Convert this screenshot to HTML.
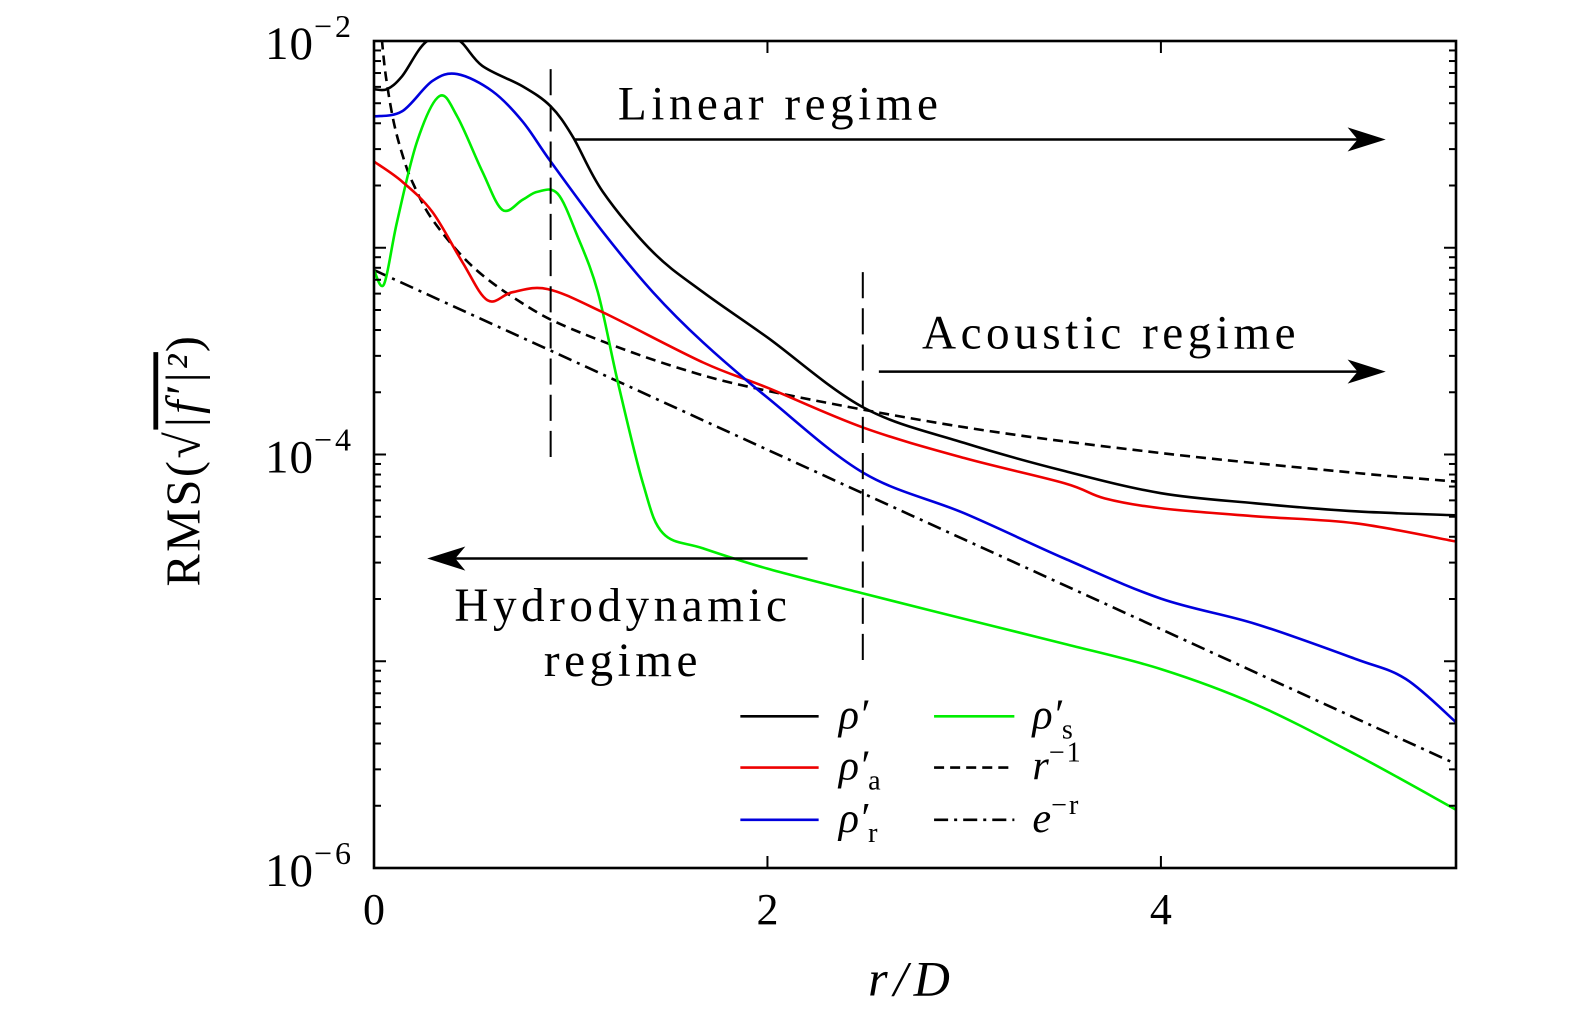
<!DOCTYPE html>
<html><head><meta charset="utf-8"><style>
html,body{margin:0;padding:0;background:#fff;width:1575px;height:1014px;overflow:hidden;position:relative;}
svg{display:block;}
svg text{font-family:"Liberation Serif",serif;fill:#000;}
</style></head><body>
<svg id="chart" width="1575" height="1014" style="position:absolute;left:0;top:0" xmlns="http://www.w3.org/2000/svg">
<defs><clipPath id="clip"><rect x="374" y="41" width="1082" height="827"/></clipPath></defs>
<g id="curves" clip-path="url(#clip)"></g>
<g id="axes"></g>
</svg>
<script>
const blackR=[0,0.066,0.143,0.27,0.42,0.55,0.755,0.898,1.01,1.163,1.418,1.673,2.0,2.49,3.0,3.51,4.0,4.48,4.99,5.5];
const blackLog=[-2.233,-2.233,-2.170,-2.0,-1.99,-2.12,-2.219,-2.316,-2.462,-2.729,-3.021,-3.215,-3.434,-3.774,-3.944,-4.080,-4.187,-4.236,-4.275,-4.294];
const blueR=[0,0.143,0.296,0.423,0.602,0.755,0.898,1.163,1.418,1.673,2.0,2.49,3.0,3.51,4.0,4.48,4.99,5.245,5.5];
const blueLog=[-2.365,-2.340,-2.194,-2.160,-2.243,-2.389,-2.583,-2.923,-3.215,-3.458,-3.725,-4.090,-4.284,-4.503,-4.697,-4.819,-4.989,-5.086,-5.295];
const redR=[0,0.143,0.296,0.449,0.577,0.704,0.883,1.163,1.673,2.0,2.49,3.0,3.51,3.714,4.0,4.48,4.99,5.5];
const redLog=[-2.583,-2.680,-2.826,-3.069,-3.254,-3.215,-3.200,-3.312,-3.555,-3.677,-3.871,-4.017,-4.139,-4.212,-4.260,-4.299,-4.333,-4.421];
const greenR=[0,0.051,0.117,0.219,0.332,0.423,0.551,0.653,0.755,0.832,0.934,1.036,1.138,1.240,1.367,1.469,1.673,2.0,2.49,3.0,3.51,4.0,4.48,4.99,5.5];
const greenLog=[-3.108,-3.176,-2.875,-2.486,-2.267,-2.365,-2.632,-2.817,-2.768,-2.729,-2.739,-2.948,-3.215,-3.652,-4.139,-4.381,-4.454,-4.552,-4.673,-4.795,-4.916,-5.038,-5.208,-5.451,-5.718];
const invR=[0.04,0.06,0.1,0.15,0.2,0.3,0.5,0.75,1,1.5,2,3,4,5,5.5];
const invLog=[-1.993,-2.169,-2.391,-2.567,-2.692,-2.868,-3.090,-3.266,-3.391,-3.567,-3.692,-3.868,-3.993,-4.090,-4.131];
const expR=[0,1,2,3,4,5,5.5];
const expLog=[-3.108,-3.542,-3.977,-4.411,-4.845,-5.280,-5.497];
const xTicks=[0,2,4];
const yTickExp=[-2,-4,-6];

const X0=374,X1=1456,Y0=41,Y1=868;
const xs=r=>X0+(r/5.5)*(X1-X0);
const ys=l=>Y0+(-2-l)/4*(Y1-Y0);
const NS="http://www.w3.org/2000/svg";
const curves=document.getElementById('curves'),axes=document.getElementById('axes');
function mk(tag,attrs,parent){const e=document.createElementNS(NS,tag);for(const k in attrs)e.setAttribute(k,attrs[k]);parent.appendChild(e);return e;}
function pathD(R,L){
  const p=R.map((r,i)=>[xs(r),ys(L[i])]);
  let d='M'+p[0][0]+','+p[0][1];
  for(let i=0;i<p.length-1;i++){
    const a=p[Math.max(0,i-1)],b=p[i],c=p[i+1],e=p[Math.min(p.length-1,i+2)];
    const c1=[b[0]+(c[0]-a[0])/6,b[1]+(c[1]-a[1])/6],c2=[c[0]-(e[0]-b[0])/6,c[1]-(e[1]-b[1])/6];
    d+=' C'+c1+' '+c2+' '+c;
  }
  return d;
}
function series(R,L,color,dash,name){
  const el=mk('path',{d:pathD(R,L),fill:'none',stroke:color,'stroke-width':2.6},curves);
  if(dash)el.setAttribute('stroke-dasharray',dash);
  
  
}
series(invR,invLog,'#000','10,6','line-r-inverse');
series(expR,expLog,'#000','14,6,3,6','line-exp');
series(greenR,greenLog,'#00ee00',null,'line-rho-s');
series(redR,redLog,'#ee0000',null,'line-rho-a');
series(blueR,blueLog,'#0000dd',null,'line-rho-r');
series(blackR,blackLog,'#000',null,'line-rho');

const fr=mk('rect',{x:X0,y:Y0,width:X1-X0,height:Y1-Y0,fill:'none',stroke:'#000','stroke-width':2.6},axes);


xTicks.forEach(t=>{
  const x=xs(t);
  mk('line',{x1:x,x2:x,y1:Y1,y2:Y1-12,stroke:'#000','stroke-width':2},axes);
  mk('line',{x1:x,x2:x,y1:Y0,y2:Y0+12,stroke:'#000','stroke-width':2},axes);
  const tx=mk('text',{x:x,y:924,'font-size':44,'text-anchor':'middle'},axes);tx.textContent=t;
  
  
});
for(let e=-6;e<-2;e++){for(let m=1;m<10;m++){
  const l=e+Math.log10(m),y=ys(l),len=m==1?12:7;
  mk('line',{x1:X0,x2:X0+len,y1:y,y2:y,stroke:'#000','stroke-width':2},axes);
  mk('line',{x1:X1,x2:X1-len,y1:y,y2:y,stroke:'#000','stroke-width':2},axes);
}}
yTickExp.forEach(e=>{
  const y=ys(e);
  const t=mk('text',{x:354,y:y+18,'font-size':47,'text-anchor':'end','letter-spacing':1},axes);
  t.innerHTML='10<tspan dy="-22" font-size="32" letter-spacing="3">−'+(-e)+'</tspan>';
  
  
});
</script>
<svg style="position:absolute;left:0;top:0" width="1575" height="1014" xmlns="http://www.w3.org/2000/svg">
<g font-family="Liberation Serif, serif" transform="translate(374,41) scale(1.0037,1.0049) translate(-372,-40)">
<text x="908" y="990" font-size="50" font-style="italic" text-anchor="middle" letter-spacing="6">r/D</text>
<text transform="translate(198,457) rotate(-90)" font-size="48" text-anchor="middle" letter-spacing="2.5">RMS(√<tspan text-decoration="overline" font-style="italic">|f′|²</tspan>)</text>
<g stroke="#000" stroke-width="2" stroke-dasharray="26,10">
<line x1="548" y1="68" x2="548" y2="455"/><line x1="859" y1="270" x2="859" y2="660"/></g>
<text x="615" y="118" font-size="47" letter-spacing="4.5">Linear regime</text>
<line x1="572" y1="138" x2="1360" y2="138" stroke="#000" stroke-width="2.5"/>
<polygon points="1380,138 1342,126 1352,138 1342,150" fill="#000"/>
<text x="918" y="346" font-size="47" letter-spacing="4.5">Acoustic regime</text>
<line x1="875" y1="369" x2="1360" y2="369" stroke="#000" stroke-width="2.5"/>
<polygon points="1380,369 1342,357 1352,369 1342,381" fill="#000"/>
<line x1="804" y1="555" x2="445" y2="555" stroke="#000" stroke-width="2.5"/>
<polygon points="425,555 463,543 453,555 463,567" fill="#000"/>
<text x="620" y="617" font-size="47" letter-spacing="4.5" text-anchor="middle">Hydrodynamic</text>
<text x="620" y="672" font-size="47" letter-spacing="4.5" text-anchor="middle">regime</text>
<g stroke-width="2.6" font-size="42">
<line x1="737" y1="712" x2="815" y2="712" stroke="#000"/><text x="835" y="724" font-style="italic" stroke="none">ρ′</text>
<line x1="737" y1="763" x2="815" y2="763" stroke="#ee0000"/><text x="835" y="775" font-style="italic" stroke="none">ρ′<tspan font-size="28" dy="10" font-style="normal">a</tspan></text>
<line x1="737" y1="815" x2="815" y2="815" stroke="#0000dd"/><text x="835" y="827" font-style="italic" stroke="none">ρ′<tspan font-size="28" dy="10" font-style="normal">r</tspan></text>
<line x1="930" y1="712" x2="1010" y2="712" stroke="#00ee00"/><text x="1028" y="724" font-style="italic" stroke="none">ρ′<tspan font-size="28" dy="10" font-style="normal">s</tspan></text>
<line x1="930" y1="763" x2="1010" y2="763" stroke="#000" stroke-dasharray="10,6"/><text x="1028" y="775" font-style="italic" stroke="none">r<tspan font-size="28" dy="-18" font-style="normal" letter-spacing="2">−1</tspan></text>
<line x1="930" y1="815" x2="1010" y2="815" stroke="#000" stroke-dasharray="14,6,3,6"/><text x="1028" y="827" font-style="italic" stroke="none">e<tspan font-size="28" dy="-18" font-style="normal" letter-spacing="2">−r</tspan></text>
</g></g></svg>
</body></html>
